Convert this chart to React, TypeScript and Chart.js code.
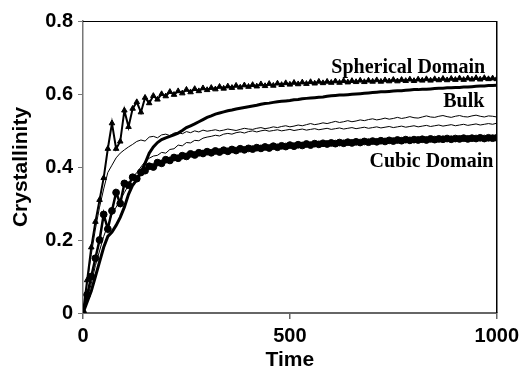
import React, { useEffect, useRef } from "react";
import { Chart, registerables } from "chart.js";
Chart.register(...registerables);

const times = [
  0, 10, 20, 30, 40, 50, 60, 70, 80, 90,
  100, 110, 120, 130, 140, 150, 160, 170, 180, 190,
  200, 210, 220, 230, 240, 250, 260, 270, 280, 290,
  300, 310, 320, 330, 340, 350, 360, 370, 380, 390,
  400, 410, 420, 430, 440, 450, 460, 470, 480, 490,
  500, 510, 520, 530, 540, 550, 560, 570, 580, 590,
  600, 610, 620, 630, 640, 650, 660, 670, 680, 690,
  700, 710, 720, 730, 740, 750, 760, 770, 780, 790,
  800, 810, 820, 830, 840, 850, 860, 870, 880, 890,
  900, 910, 920, 930, 940, 950, 960, 970, 980, 990,
  1000];

const spherical = [
  0, 0.09, 0.18, 0.25, 0.31, 0.37, 0.45, 0.52, 0.45, 0.47,
  0.555, 0.51, 0.56, 0.578, 0.55, 0.59, 0.575, 0.595, 0.585, 0.6,
  0.594, 0.606, 0.598, 0.608, 0.602, 0.612, 0.605, 0.614, 0.608, 0.616,
  0.611, 0.617, 0.613, 0.62, 0.615, 0.621, 0.617, 0.623, 0.618, 0.624,
  0.62, 0.625, 0.621, 0.627, 0.622, 0.628, 0.623, 0.629, 0.625, 0.63,
  0.626, 0.631, 0.627, 0.632, 0.628, 0.633, 0.629, 0.634, 0.63, 0.634,
  0.631, 0.635, 0.631, 0.636, 0.632, 0.636, 0.633, 0.637, 0.633, 0.637,
  0.634, 0.638, 0.634, 0.638, 0.635, 0.639, 0.635, 0.639, 0.636, 0.64,
  0.636, 0.64, 0.637, 0.641, 0.637, 0.641, 0.638, 0.642, 0.638, 0.642,
  0.639, 0.643, 0.639, 0.643, 0.64, 0.644, 0.64, 0.644, 0.641, 0.643,
  0.641];

const cubic = [
  0, 0.05, 0.1, 0.15, 0.2, 0.27, 0.23, 0.28, 0.33, 0.3,
  0.355, 0.35, 0.372, 0.368, 0.385, 0.39, 0.402, 0.4, 0.412, 0.41,
  0.42, 0.418, 0.426, 0.424, 0.431, 0.429, 0.436, 0.433, 0.439, 0.437,
  0.442, 0.439, 0.444, 0.441, 0.446, 0.443, 0.448, 0.445, 0.45, 0.447,
  0.451, 0.449, 0.453, 0.451, 0.455, 0.452, 0.457, 0.454, 0.458, 0.456,
  0.46, 0.457, 0.461, 0.459, 0.463, 0.46, 0.464, 0.462, 0.465, 0.463,
  0.466, 0.464, 0.467, 0.465, 0.468, 0.466, 0.469, 0.467, 0.47, 0.468,
  0.471, 0.469, 0.472, 0.47, 0.473, 0.471, 0.474, 0.472, 0.475, 0.473,
  0.475, 0.474, 0.476, 0.474, 0.477, 0.475, 0.477, 0.476, 0.478, 0.476,
  0.478, 0.477, 0.479, 0.477, 0.479, 0.478, 0.48, 0.478, 0.48, 0.479,
  0.48];

const bulkThick = [
  0, 0.03, 0.06, 0.1, 0.14, 0.18, 0.21, 0.222, 0.24, 0.262,
  0.29, 0.325, 0.35, 0.365, 0.385, 0.41, 0.438, 0.455, 0.467, 0.475,
  0.48, 0.484, 0.488, 0.493, 0.5, 0.508, 0.513, 0.518, 0.524, 0.53,
  0.536, 0.54, 0.545, 0.548, 0.551, 0.554, 0.556, 0.559, 0.561, 0.563,
  0.565, 0.567, 0.569, 0.572, 0.574, 0.575, 0.577, 0.579, 0.58, 0.581,
  0.582, 0.584, 0.585, 0.587, 0.588, 0.589, 0.59, 0.591, 0.592, 0.594,
  0.595, 0.596, 0.597, 0.597, 0.598, 0.599, 0.6, 0.601, 0.602, 0.603,
  0.604, 0.605, 0.606, 0.606, 0.607, 0.608, 0.609, 0.609, 0.61, 0.611,
  0.612, 0.612, 0.613, 0.613, 0.614, 0.615, 0.616, 0.616, 0.617, 0.617,
  0.618, 0.618, 0.619, 0.619, 0.62, 0.621, 0.622, 0.622, 0.623, 0.623,
  0.624];

const thinUpper = [
  0, 0.08, 0.16, 0.23, 0.29, 0.34, 0.385, 0.405, 0.425, 0.438,
  0.447, 0.455, 0.462, 0.47, 0.474, 0.471, 0.482, 0.484, 0.48, 0.488,
  0.49, 0.486, 0.493, 0.495, 0.491, 0.497, 0.494, 0.499, 0.496, 0.501,
  0.498, 0.5, 0.502, 0.499, 0.501, 0.504, 0.502, 0.5, 0.503, 0.506,
  0.504, 0.503, 0.506, 0.508, 0.505, 0.507, 0.51, 0.508, 0.511, 0.513,
  0.51, 0.512, 0.515, 0.513, 0.516, 0.519, 0.516, 0.518, 0.521, 0.519,
  0.522, 0.525, 0.522, 0.524, 0.527, 0.524, 0.526, 0.529, 0.527, 0.53,
  0.532, 0.529, 0.531, 0.534, 0.531, 0.533, 0.536, 0.533, 0.535, 0.538,
  0.535, 0.534, 0.537, 0.54, 0.537, 0.536, 0.539, 0.541, 0.538, 0.536,
  0.539, 0.541, 0.538, 0.537, 0.54, 0.542, 0.539, 0.537, 0.54, 0.539,
  0.537];

const thinLower = [
  0, 0.04, 0.08, 0.13, 0.17, 0.21, 0.24, 0.27, 0.29, 0.31,
  0.33, 0.35, 0.37, 0.385, 0.4, 0.415, 0.424, 0.43, 0.432, 0.44,
  0.438, 0.448, 0.45, 0.46, 0.458, 0.467, 0.466, 0.473, 0.472, 0.479,
  0.482, 0.484, 0.487, 0.485, 0.49, 0.492, 0.49, 0.494, 0.496, 0.493,
  0.497, 0.499, 0.496, 0.499, 0.501, 0.498, 0.5, 0.502, 0.499, 0.501,
  0.503, 0.5, 0.502, 0.504, 0.501, 0.503, 0.505, 0.502, 0.504, 0.506,
  0.503, 0.505, 0.507, 0.504, 0.506, 0.508, 0.505, 0.507, 0.509, 0.506,
  0.508, 0.51, 0.507, 0.509, 0.511, 0.508, 0.51, 0.512, 0.509, 0.511,
  0.513, 0.51, 0.512, 0.514, 0.511, 0.513, 0.515, 0.512, 0.514, 0.516,
  0.513, 0.515, 0.517, 0.514, 0.516, 0.518, 0.515, 0.517, 0.519, 0.517,
  0.52];

const xTickValues = [0, 500, 1000];
const yTickValues = [0, 0.2, 0.4, 0.6, 0.8];

const annotationTexts = ["Spherical Domain", "Bulk", "Cubic Domain"];
const annotationX = [972, 970, 992];
const annotationY = [0.658, 0.564, 0.4];

const toPoints = (vals: number[]) => vals.map((v, i) => ({ x: times[i], y: v }));

const framePlugin = {
  id: "frameAndLabels",
  afterDraw(chart: any) {
    const { ctx, chartArea, scales } = chart;
    const { left, right, top, bottom } = chartArea;
    ctx.save();
    ctx.strokeStyle = "#000";
    ctx.lineWidth = 1;
    ctx.beginPath();
    ctx.moveTo(left, top + 0.5);
    ctx.lineTo(right, top + 0.5);
    ctx.stroke();
    ctx.lineWidth = 1.5;
    ctx.beginPath();
    ctx.moveTo(right, top);
    ctx.lineTo(right, bottom);
    ctx.stroke();
    ctx.font = 'bold 20px "Liberation Serif"';
    ctx.textAlign = "right";
    ctx.textBaseline = "alphabetic";
    ctx.fillStyle = "#000";
    annotationTexts.forEach((t, i) => {
      ctx.fillText(t, scales.x.getPixelForValue(annotationX[i]), scales.y.getPixelForValue(annotationY[i]));
    });
    ctx.restore();
  },
};

export default function App() {
  const ref = useRef<HTMLCanvasElement | null>(null);
  useEffect(() => {
    if (!ref.current) return;
    const family = '"Liberation Sans", Arial, sans-serif';
    const tickFont = { family, size: 20, weight: "bold" as const };
    const titleFont = { family, size: 21, weight: "bold" as const, lineHeight: 1 };
    const chart = new Chart(ref.current, {
      type: "line",
      data: {
        datasets: [
          {
            label: "Spherical Domain",
            data: toPoints(spherical),
            borderColor: "#000",
            backgroundColor: "#000",
            borderWidth: 2,
            pointStyle: "triangle",
            pointRadius: 3.2,
            pointBorderWidth: 1,
          },
          {
            label: "Cubic Domain",
            data: toPoints(cubic),
            borderColor: "#000",
            backgroundColor: "#000",
            borderWidth: 2.5,
            pointStyle: "circle",
            pointRadius: 3.4,
            pointBorderWidth: 1,
          },
          {
            label: "Bulk (thick)",
            data: toPoints(bulkThick),
            borderColor: "#000",
            borderWidth: 3,
            pointRadius: 0,
          },
          {
            label: "Thin 1",
            data: toPoints(thinUpper),
            borderColor: "#000",
            borderWidth: 1,
            pointRadius: 0,
          },
          {
            label: "Thin 2",
            data: toPoints(thinLower),
            borderColor: "#000",
            borderWidth: 1,
            pointRadius: 0,
          },
        ],
      },
      options: {
        animation: false,
        responsive: false,
        devicePixelRatio: 1,
        layout: { padding: { left: 0, right: 26, top: 21, bottom: 0 } },
        plugins: { legend: { display: false }, tooltip: { enabled: false } },
        elements: { line: { tension: 0 } },
        scales: {
          x: {
            type: "linear",
            min: 0,
            max: 1000,
            afterFit: (s: any) => { s.height = 58; },
            afterBuildTicks: (s: any) => { s.ticks = xTickValues.map((v) => ({ value: v })); },
            ticks: { color: "#000", font: tickFont, padding: 5, maxRotation: 0, callback: (v: any) => String(v) },
            grid: { drawOnChartArea: false, drawTicks: true, tickLength: 6, color: "#666", lineWidth: 1.5 },
            border: { color: "#666", width: 2 },
            title: { display: true, text: "Time", color: "#000", font: titleFont, padding: { top: 0, bottom: 0 } },
          },
          y: {
            type: "linear",
            min: 0,
            max: 0.8,
            afterFit: (s: any) => { s.width = 83; },
            afterBuildTicks: (s: any) => { s.ticks = yTickValues.map((v) => ({ value: v })); },
            ticks: { color: "#000", font: tickFont, padding: 5, callback: (v: any) => String(v) },
            grid: { drawOnChartArea: false, drawTicks: true, tickLength: 5, color: "#777", lineWidth: 1 },
            border: { color: "#777", width: 1.5 },
            title: { display: true, text: "Crystallinity", color: "#000", font: titleFont, padding: { top: 11, bottom: 0 } },
          },
        },
      },
      plugins: [framePlugin],
    });
    return () => chart.destroy();
  }, []);
  return (
    <div style={{ position: "fixed", left: 0, top: 0, width: 524, height: 371, background: "#fff" }}>
      <canvas ref={ref} width={524} height={371} />
    </div>
  );
}
